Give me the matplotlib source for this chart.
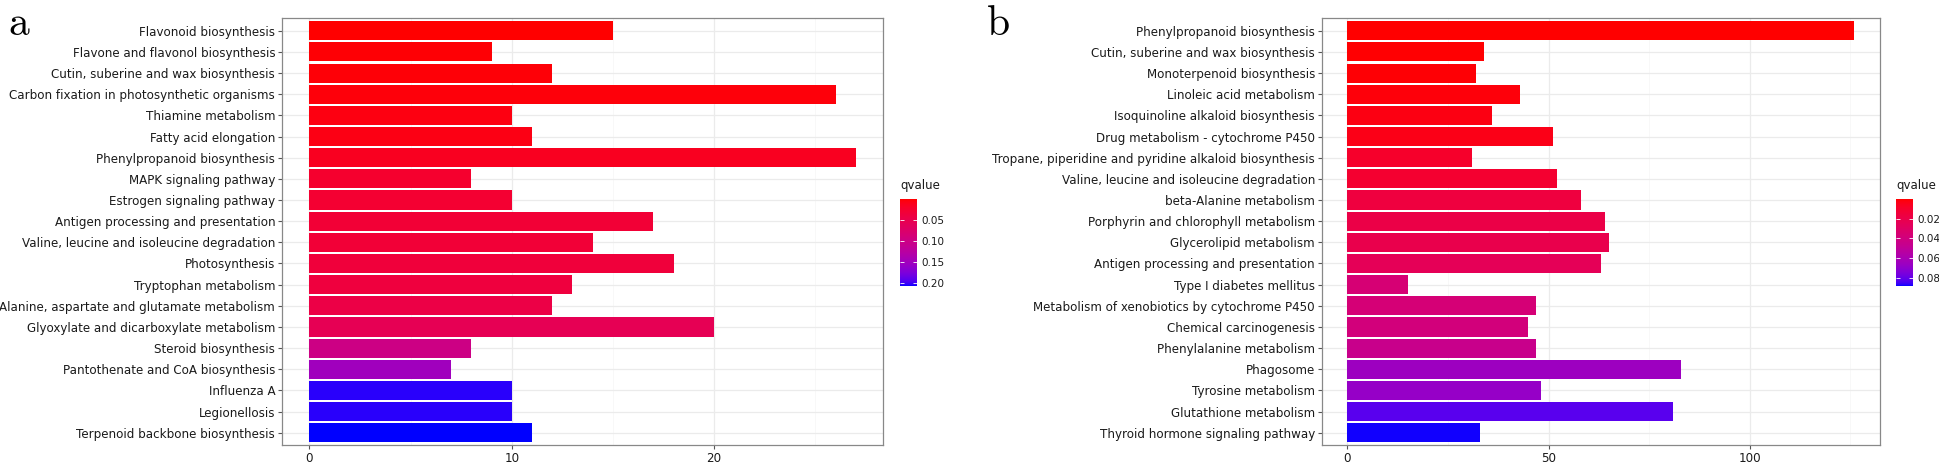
import numpy as np
import matplotlib
matplotlib.use("Agg")
import matplotlib.pyplot as plt
from matplotlib.colors import ListedColormap, Normalize
from matplotlib.cm import ScalarMappable
from matplotlib.ticker import MultipleLocator

plt.rcParams['font.family'] = ['DejaVu Sans']
plt.rcParams['mathtext.fontset'] = 'cm'

# ---- panel a data ----
pathways_a = [
    "Flavonoid biosynthesis", "Flavone and flavonol biosynthesis",
    "Cutin, suberine and wax biosynthesis", "Carbon fixation in photosynthetic organisms",
    "Thiamine metabolism", "Fatty acid elongation", "Phenylpropanoid biosynthesis",
    "MAPK signaling pathway", "Estrogen signaling pathway",
    "Antigen processing and presentation", "Valine, leucine and isoleucine degradation",
    "Photosynthesis", "Tryptophan metabolism",
    "Alanine, aspartate and glutamate metabolism",
    "Glyoxylate and dicarboxylate metabolism", "Steroid biosynthesis",
    "Pantothenate and CoA biosynthesis", "Influenza A", "Legionellosis",
    "Terpenoid backbone biosynthesis",
]
counts_a = [15, 9, 12, 26, 10, 11, 27, 8, 10, 17, 14, 18, 13, 12, 20, 8, 7, 10, 10, 11]
qvalue_a = [0.0005, 0.002, 0.003, 0.004, 0.006, 0.008, 0.014, 0.024, 0.027, 0.030,
            0.031, 0.034, 0.037, 0.043, 0.056, 0.100, 0.150, 0.203, 0.203, 0.207]

# ---- panel b data ----
pathways_b = [
    "Phenylpropanoid biosynthesis", "Cutin, suberine and wax biosynthesis",
    "Monoterpenoid biosynthesis", "Linoleic acid metabolism",
    "Isoquinoline alkaloid biosynthesis", "Drug metabolism - cytochrome P450",
    "Tropane, piperidine and pyridine alkaloid biosynthesis",
    "Valine, leucine and isoleucine degradation", "beta-Alanine metabolism",
    "Porphyrin and chlorophyll metabolism", "Glycerolipid metabolism",
    "Antigen processing and presentation", "Type I diabetes mellitus",
    "Metabolism of xenobiotics by cytochrome P450", "Chemical carcinogenesis",
    "Phenylalanine metabolism", "Phagosome", "Tyrosine metabolism",
    "Glutathione metabolism", "Thyroid hormone signaling pathway",
]
counts_b = [126, 34, 32, 43, 36, 51, 31, 52, 58, 64, 65, 63, 15, 47, 45, 47, 83, 48, 81, 33]
qvalue_b = [0.0002, 0.0005, 0.001, 0.0015, 0.003, 0.004, 0.009, 0.011, 0.016, 0.019,
            0.021, 0.025, 0.036, 0.037, 0.039, 0.045, 0.065, 0.068, 0.082, 0.088]


# red -> blue gradient interpolated in CIELAB (like ggplot's scale_fill_gradient)
def srgb_to_lab(rgb):
    rgb = np.asarray(rgb, float)
    lin = np.where(rgb <= 0.04045, rgb / 12.92, ((rgb + 0.055) / 1.055) ** 2.4)
    M = np.array([[0.4124, 0.3576, 0.1805], [0.2126, 0.7152, 0.0722], [0.0193, 0.1192, 0.9505]])
    xyz = M @ lin / np.array([0.95047, 1.0, 1.08883])
    f = np.where(xyz > 0.008856, np.cbrt(xyz), 7.787 * xyz + 16 / 116)
    return np.array([116 * f[1] - 16, 500 * (f[0] - f[1]), 200 * (f[1] - f[2])])


def lab_to_srgb(lab):
    L, a, b = lab
    fy = (L + 16) / 116
    fx = fy + a / 500
    fz = fy - b / 200
    f = np.array([fx, fy, fz])
    xyz = np.where(f ** 3 > 0.008856, f ** 3, (f - 16 / 116) / 7.787) * np.array([0.95047, 1.0, 1.08883])
    Minv = np.array([[3.2406, -1.5372, -0.4986], [-0.9689, 1.8758, 0.0415], [0.0557, -0.2040, 1.0570]])
    lin = Minv @ xyz
    rgb = np.where(lin <= 0.0031308, 12.92 * lin, 1.055 * np.clip(lin, 0, None) ** (1 / 2.4) - 0.055)
    return np.clip(rgb, 0, 1)


lab_lo = srgb_to_lab([1, 0, 0])
lab_hi = srgb_to_lab([0, 0, 1])
cmap = ListedColormap([lab_to_srgb(lab_lo + t * (lab_hi - lab_lo)) for t in np.linspace(0, 1, 256)])

fig = plt.figure(figsize=(19.4, 4.66), dpi=100)

BOTTOM = 0.044
TOP = 1 - 18 / 466


def draw_panel(left, width, cbar_x, names, counts, qvals, qmin, qmax, major, minor, cticks, letter, letter_x):
    ax = fig.add_axes([left, BOTTOM, width, TOP - BOTTOM])
    norm = Normalize(qmin, qmax)
    y = np.arange(len(names))
    ax.barh(y, counts, height=0.9, color=cmap(norm(np.array(qvals))), zorder=3)
    ax.set_ylim(len(names) - 0.4, -0.6)
    span = max(counts)
    ax.set_xlim(-0.05 * span, span * 1.05)
    ax.set_yticks(y)
    ax.set_yticklabels(names)
    ax.xaxis.set_major_locator(MultipleLocator(major))
    ax.xaxis.set_minor_locator(MultipleLocator(minor))
    ax.grid(True, which='major', color='#EBEBEB', linewidth=0.9, zorder=0)
    ax.grid(True, which='minor', axis='x', color='#F5F5F5', linewidth=0.5, zorder=0)
    ax.tick_params(axis='both', which='major', length=3, width=0.8, color='#555555',
                   labelsize=8.6, labelcolor='#1a1a1a', pad=2)
    ax.tick_params(axis='x', which='major', pad=1.5)
    ax.tick_params(axis='x', which='minor', length=0)
    for s in ax.spines.values():
        s.set_color('#888888')
        s.set_linewidth(0.9)
    ax.set_axisbelow(True)

    cax = fig.add_axes([cbar_x, 0.3863, 0.0088, 0.1867])
    cb = fig.colorbar(ScalarMappable(norm=norm, cmap=cmap), cax=cax)
    cb.outline.set_visible(False)
    cax.invert_yaxis()
    cb.set_ticks(cticks)
    cb.set_ticklabels(["%.2f" % t for t in cticks])
    cax.tick_params(which='both', direction='in', length=3, width=0.6, color='white',
                    left=True, right=True, labelleft=False, labelright=True,
                    labelsize=7.5, labelcolor='#1a1a1a', pad=3)
    cax.minorticks_off()
    cax.text(0.0, 1.08, "qvalue", transform=cax.transAxes, fontsize=8.5,
             color='#1a1a1a', ha='left', va='bottom')
    fig.text(letter_x, 0.995, r"$\mathrm{%s}$" % letter, fontsize=30, ha='left', va='top')
    return ax


draw_panel(0.1454, 0.3098, 0.4639,
           pathways_a, counts_a, qvalue_a, 0.0, 0.2066, 10, 5,
           [0.05, 0.10, 0.15, 0.20], "a", 0.004)
draw_panel(0.6814, 0.2876, 0.9773,
           pathways_b, counts_b, qvalue_b, 0.0, 0.0884, 50, 25,
           [0.02, 0.04, 0.06, 0.08], "b", 0.508)

fig.savefig("out.png", dpi=100)
